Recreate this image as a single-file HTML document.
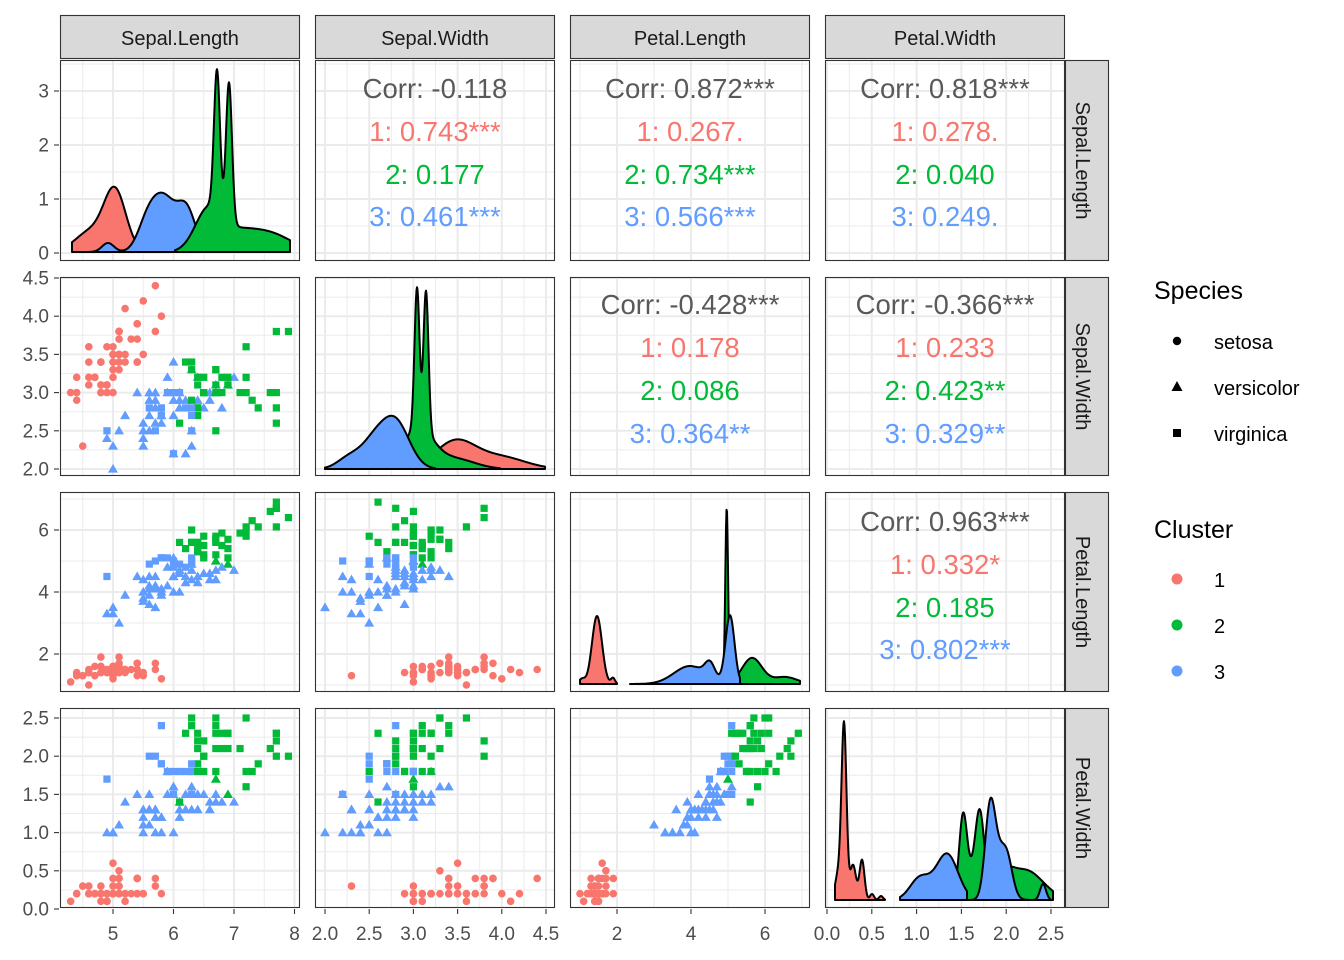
<!DOCTYPE html>
<html><head><meta charset="utf-8">
<style>
html,body{margin:0;padding:0;background:#fff;}
svg{display:block;font-family:"Liberation Sans",Arial,sans-serif;}
</style></head>
<body>
<svg id="s" width="1344" height="960" viewBox="0 0 1344 960" xmlns="http://www.w3.org/2000/svg"></svg>
<script>
var D=`5.1,3.5,1.4,0.2
4.9,3.0,1.4,0.2
4.7,3.2,1.3,0.2
4.6,3.1,1.5,0.2
5.0,3.6,1.4,0.2
5.4,3.9,1.7,0.4
4.6,3.4,1.4,0.3
5.0,3.4,1.5,0.2
4.4,2.9,1.4,0.2
4.9,3.1,1.5,0.1
5.4,3.7,1.5,0.2
4.8,3.4,1.6,0.2
4.8,3.0,1.4,0.1
4.3,3.0,1.1,0.1
5.8,4.0,1.2,0.2
5.7,4.4,1.5,0.4
5.4,3.9,1.3,0.4
5.1,3.5,1.4,0.3
5.7,3.8,1.7,0.3
5.1,3.8,1.5,0.3
5.4,3.4,1.7,0.2
5.1,3.7,1.5,0.4
4.6,3.6,1.0,0.2
5.1,3.3,1.7,0.5
4.8,3.4,1.9,0.2
5.0,3.0,1.6,0.2
5.0,3.4,1.6,0.4
5.2,3.5,1.5,0.2
5.2,3.4,1.4,0.2
4.7,3.2,1.6,0.2
4.8,3.1,1.6,0.2
5.4,3.4,1.5,0.4
5.2,4.1,1.5,0.1
5.5,4.2,1.4,0.2
4.9,3.1,1.5,0.2
5.0,3.2,1.2,0.2
5.5,3.5,1.3,0.2
4.9,3.6,1.4,0.1
4.4,3.0,1.3,0.2
5.1,3.4,1.5,0.2
5.0,3.5,1.3,0.3
4.5,2.3,1.3,0.3
4.4,3.2,1.3,0.2
5.0,3.5,1.6,0.6
5.1,3.8,1.9,0.4
4.8,3.0,1.4,0.3
5.1,3.8,1.6,0.2
4.6,3.2,1.4,0.2
5.3,3.7,1.5,0.2
5.0,3.3,1.4,0.2
7.0,3.2,4.7,1.4
6.4,3.2,4.5,1.5
6.9,3.1,4.9,1.5
5.5,2.3,4.0,1.3
6.5,2.8,4.6,1.5
5.7,2.8,4.5,1.3
6.3,3.3,4.7,1.6
4.9,2.4,3.3,1.0
6.6,2.9,4.6,1.3
5.2,2.7,3.9,1.4
5.0,2.0,3.5,1.0
5.9,3.0,4.2,1.5
6.0,2.2,4.0,1.0
6.1,2.9,4.7,1.4
5.6,2.9,3.6,1.3
6.7,3.1,4.4,1.4
5.6,3.0,4.5,1.5
5.8,2.7,4.1,1.0
6.2,2.2,4.5,1.5
5.6,2.5,3.9,1.1
5.9,3.2,4.8,1.8
6.1,2.8,4.0,1.3
6.3,2.5,4.9,1.5
6.1,2.8,4.7,1.2
6.4,2.9,4.3,1.3
6.6,3.0,4.4,1.4
6.8,2.8,4.8,1.4
6.7,3.0,5.0,1.7
6.0,2.9,4.5,1.5
5.7,2.6,3.5,1.0
5.5,2.4,3.8,1.1
5.5,2.4,3.7,1.0
5.8,2.7,3.9,1.2
6.0,2.7,5.1,1.6
5.4,3.0,4.5,1.5
6.0,3.4,4.5,1.6
6.7,3.1,4.7,1.5
6.3,2.3,4.4,1.3
5.6,3.0,4.1,1.3
5.5,2.5,4.0,1.3
5.5,2.6,4.4,1.2
6.1,3.0,4.6,1.4
5.8,2.6,4.0,1.2
5.0,2.3,3.3,1.0
5.6,2.7,4.2,1.3
5.7,3.0,4.2,1.2
5.7,2.9,4.2,1.3
6.2,2.9,4.3,1.3
5.1,2.5,3.0,1.1
5.7,2.8,4.1,1.3
6.3,3.3,6.0,2.5
5.8,2.7,5.1,1.9
7.1,3.0,5.9,2.1
6.3,2.9,5.6,1.8
6.5,3.0,5.8,2.2
7.6,3.0,6.6,2.1
4.9,2.5,4.5,1.7
7.3,2.9,6.3,1.8
6.7,2.5,5.8,1.8
7.2,3.6,6.1,2.5
6.5,3.2,5.1,2.0
6.4,2.7,5.3,1.9
6.8,3.0,5.5,2.1
5.7,2.5,5.0,2.0
5.8,2.8,5.1,2.4
6.4,3.2,5.3,2.3
6.5,3.0,5.5,1.8
7.7,3.8,6.7,2.2
7.7,2.6,6.9,2.3
6.0,2.2,5.0,1.5
6.9,3.2,5.7,2.3
5.6,2.8,4.9,2.0
7.7,2.8,6.7,2.0
6.3,2.7,4.9,1.8
6.7,3.3,5.7,2.1
7.2,3.2,6.0,1.8
6.2,2.8,4.8,1.8
6.1,3.0,4.9,1.8
6.4,2.8,5.6,2.1
7.2,3.0,5.8,1.6
7.4,2.8,6.1,1.9
7.9,3.8,6.4,2.0
6.4,2.8,5.6,2.2
6.3,2.8,5.1,1.5
6.1,2.6,5.6,1.4
7.7,3.0,6.1,2.3
6.3,3.4,5.6,2.4
6.4,3.1,5.5,1.8
6.0,3.0,4.8,1.8
6.9,3.1,5.4,2.1
6.7,3.1,5.6,2.4
6.9,3.1,5.1,2.3
5.8,2.7,5.1,1.9
6.8,3.2,5.9,2.3
6.7,3.3,5.7,2.5
6.7,3.0,5.2,2.3
6.3,2.5,5.0,1.9
6.5,3.0,5.2,2.0
6.2,3.4,5.4,2.3
5.9,3.0,5.1,1.8`.split("\n").map(function(l){return l.split(",").map(Number);});
var sp=D.map(function(_,i){return i<50?0:(i<100?1:2);});
var C=[[5.0,3.4,1.5,0.25],[5.9,2.75,4.4,1.4],[6.85,3.07,5.74,2.07]];
var cl=new Array(150);
for(var it=0;it<50;it++){
 for(var i=0;i<150;i++){var b=0,bd=1e9;for(var k=0;k<3;k++){var d=0;for(var j=0;j<4;j++){var t=D[i][j]-C[k][j];d+=t*t;}if(d<bd){bd=d;b=k;}}cl[i]=b;}
 for(var k=0;k<3;k++){var s=[0,0,0,0],n=0;for(var i=0;i<150;i++)if(cl[i]==k){n++;for(var j=0;j<4;j++)s[j]+=D[i][j];}if(n)C[k]=s.map(function(v){return v/n;});}
}
var COL=["#F8766D","#00BA38","#619CFF"];
var cmap=[0,2,1];
var fx=[function(v){return 113+(v-5)*60.5;},function(v){return 325+(v-2)*88.4;},function(v){return 617+(v-2)*37;},function(v){return 827+v*89.6;}];
var fy=[function(v){return 253-v*54;},function(v){return 469-(v-2)*76.4;},function(v){return 654-(v-2)*31;},function(v){return 909-v*76.4;}];
var X=[60,315,570,825],Y=[60,277,492,708],YB=[261,476,692,908],W=240;
var xmaj=[[5,6,7,8],[2,2.5,3,3.5,4,4.5],[2,4,6],[0,0.5,1,1.5,2,2.5]];
var xmin=[[4.5,5.5,6.5,7.5],[2.25,2.75,3.25,3.75,4.25],[1,3,5,7],[0.25,0.75,1.25,1.75,2.25]];
var ymaj=[[0,1,2,3],[2,2.5,3,3.5,4,4.5],[2,4,6],[0,0.5,1,1.5,2,2.5]];
var ymin=[[0.5,1.5,2.5,3.5],[2.25,2.75,3.25,3.75,4.25],[1,3,5,7],[0.25,0.75,1.25,1.75,2.25]];
var lab=[["5","6","7","8"],["2.0","2.5","3.0","3.5","4.0","4.5"],["2","4","6"],["0.0","0.5","1.0","1.5","2.0","2.5"]];
var ylab=[["0","1","2","3"],["2.0","2.5","3.0","3.5","4.0","4.5"],["2","4","6"],["0.0","0.5","1.0","1.5","2.0","2.5"]];
var names=["Sepal.Length","Sepal.Width","Petal.Length","Petal.Width"];
var o=[];
var border=[];
for(var r=0;r<4;r++)for(var c=0;c<4;c++){
 var x0=X[c],y0=Y[r],x1=X[c]+W,y1=YB[r];
 o.push('<clipPath id="cp'+r+c+'"><rect x="'+x0+'" y="'+y0+'" width="'+W+'" height="'+(y1-y0)+'"/></clipPath><g clip-path="url(#cp'+r+c+')">');
 o.push('<rect x="'+x0+'" y="'+y0+'" width="'+W+'" height="'+(y1-y0)+'" fill="#fff"/>');
 xmin[c].forEach(function(v){var p=fx[c](v);o.push('<line x1="'+p+'" x2="'+p+'" y1="'+y0+'" y2="'+y1+'" stroke="#EBEBEB" stroke-width="1"/>');});
 ymin[r].forEach(function(v){var p=fy[r](v);o.push('<line y1="'+p+'" y2="'+p+'" x1="'+x0+'" x2="'+x1+'" stroke="#EBEBEB" stroke-width="1"/>');});
 xmaj[c].forEach(function(v){var p=fx[c](v);o.push('<line x1="'+p+'" x2="'+p+'" y1="'+y0+'" y2="'+y1+'" stroke="#EBEBEB" stroke-width="2"/>');});
 ymaj[r].forEach(function(v){var p=fy[r](v);o.push('<line y1="'+p+'" y2="'+p+'" x1="'+x0+'" x2="'+x1+'" stroke="#EBEBEB" stroke-width="2"/>');});
 if(r>c){
  for(var i=0;i<150;i++){
   var px=fx[c](D[i][c]),py=fy[r](D[i][r]),col=COL[cmap[cl[i]]];
   if(sp[i]==0)o.push('<circle cx="'+px+'" cy="'+py+'" r="3.8" fill="'+col+'"/>');
   else if(sp[i]==1)o.push('<path d="M'+px+','+(py-5)+'L'+(px+5)+','+(py+3.6)+'L'+(px-5)+','+(py+3.6)+'Z" fill="'+col+'"/>');
   else o.push('<rect x="'+(px-3.6)+'" y="'+(py-3.6)+'" width="7.2" height="7.2" fill="'+col+'"/>');
  }
 }
 o.push('</g>');
 border.push('<rect x="'+(x0+0.5)+'" y="'+(y0+0.5)+'" width="'+(W-1)+'" height="'+(y1-y0-1)+'" fill="none" stroke="#333" stroke-width="1.1"/>');
}
function dens(k,px,base,a,b,comps,col){
 var pts=[];for(var x=a;x<=b+0.001;x+=0.5){var y=0;comps.forEach(function(q){y+=q[2]*Math.exp(-(x-q[0])*(x-q[0])/(2*q[1]*q[1]));});pts.push([px+x,base-y]);}
 var d='M'+(px+a)+','+base;pts.forEach(function(p){d+='L'+p[0].toFixed(1)+','+p[1].toFixed(1);});d+='L'+(px+b)+','+base+'Z';
 o.push('<path clip-path="url(#cp'+k+k+')" d="'+d+'" fill="'+col+'" stroke="#000" stroke-width="2" stroke-linejoin="round"/>');
}
var R=COL[0],G=COL[1],B=COL[2];
dens(0,60,252,12,82,[[55,11,60],[30,15,20]],R);
dens(0,60,252,20,150,[[103,13,55],[127,9,38],[86,9,18],[48,6,9]],B);
dens(0,60,252,115,230,[[148,13,38],[178,22,20],[215,20,14],[157,3,140],[169,3,140]],G);
dens(1,315,469,10,230,[[140,20,27],[185,25,12],[40,15,10]],R);
dens(1,315,469,12,185,[[103,15,40],[140,20,10],[102,2.5,140],[111,2.5,140]],G);
dens(1,315,469,10,120,[[80,14,48],[58,12,22],[35,12,12]],B);
dens(2,570,684,10,47,[[27,5,68],[43,2,6],[12,3,5]],R);
dens(2,570,684,150,230,[[156.7,1.4,175],[182,10,26],[215,12,7]],G);
dens(2,570,684,60,170,[[120,16,18],[140,5,15],[160,4.5,68]],B);
dens(3,825,900,10,60,[[19,2.5,175],[13,3,25],[28,3,35],[37,2.5,40],[47,2,6],[56,2,4]],R);
dens(3,825,900,120,228,[[138,4,80],[155,4.5,80],[147,6,22],[200,18,30],[180,8,15]],G);
dens(3,825,900,75,142,[[95,10,22],[122,11,46]],B);
dens(3,825,900,146,225,[[165,5,80],[175,8,45],[183,5,20],[218,3,16]],B);
o.push(border.join(""));
var txt=[
 [1,0,["Corr: -0.118","1: 0.743***","2: 0.177","3: 0.461***"]],
 [2,0,["Corr: 0.872***","1: 0.267.","2: 0.734***","3: 0.566***"]],
 [3,0,["Corr: 0.818***","1: 0.278.","2: 0.040","3: 0.249."]],
 [2,1,["Corr: -0.428***","1: 0.178","2: 0.086","3: 0.364**"]],
 [3,1,["Corr: -0.366***","1: 0.233","2: 0.423**","3: 0.329**"]],
 [3,2,["Corr: 0.963***","1: 0.332*","2: 0.185","3: 0.802***"]]];
var tc=["#595959",R,G,B];
var ty=[[88,131,174,216],[304,347,390,433],[521,564,607,649]];
txt.forEach(function(t){var cx=X[t[0]]+120;t[2].forEach(function(s,k){o.push('<text x="'+cx+'" y="'+(ty[t[1]][k]+10)+'" font-size="27.5" text-anchor="middle" fill="'+tc[k]+'">'+s+'</text>');});});
for(var c=0;c<4;c++){o.push('<rect x="'+(X[c]+0.5)+'" y="15.5" width="'+(W-1)+'" height="43" fill="#D9D9D9" stroke="#333" stroke-width="1.1"/><text x="'+(X[c]+120)+'" y="45" font-size="20" text-anchor="middle" fill="#1A1A1A">'+names[c]+'</text>');}
for(var r=0;r<4;r++){var h=YB[r]-Y[r];o.push('<rect x="1065.5" y="'+(Y[r]+0.5)+'" width="43" height="'+(h-1)+'" fill="#D9D9D9" stroke="#333" stroke-width="1.1"/><text transform="translate(1076,'+(Y[r]+h/2)+') rotate(90)" font-size="20" text-anchor="middle" fill="#1A1A1A">'+names[r]+'</text>');}
for(var r=0;r<4;r++)ymaj[r].forEach(function(v,k){var p=fy[r](v);o.push('<line x1="54" x2="59" y1="'+p+'" y2="'+p+'" stroke="#333" stroke-width="1.1"/><text x="49" y="'+(p+6.5)+'" font-size="19" text-anchor="end" fill="#4D4D4D">'+ylab[r][k]+'</text>');});
for(var c=0;c<4;c++)xmaj[c].forEach(function(v,k){var p=fx[c](v);o.push('<line x1="'+p+'" x2="'+p+'" y1="909" y2="914" stroke="#333" stroke-width="1.1"/><text x="'+p+'" y="940" font-size="19" text-anchor="middle" fill="#4D4D4D">'+lab[c][k]+'</text>');});
o.push('<text x="1154" y="299" font-size="25" fill="#000">Species</text>');
o.push('<circle cx="1177" cy="341" r="4.2" fill="#000"/><text x="1214" y="349" font-size="20">setosa</text>');
o.push('<path d="M1177,381L1182.5,391L1171.5,391Z" fill="#000"/><text x="1214" y="395" font-size="20">versicolor</text>');
o.push('<rect x="1173" y="429" width="8" height="8" fill="#000"/><text x="1214" y="441" font-size="20">virginica</text>');
o.push('<text x="1154" y="538" font-size="25" fill="#000">Cluster</text>');
[[579,R,"1"],[625,G,"2"],[671,B,"3"]].forEach(function(q){o.push('<circle cx="1177" cy="'+q[0]+'" r="5.5" fill="'+q[1]+'"/><text x="1214" y="'+(q[0]+8)+'" font-size="20">'+q[2]+'</text>');});
document.getElementById("s").innerHTML=o.join("");
</script>
</body></html>
